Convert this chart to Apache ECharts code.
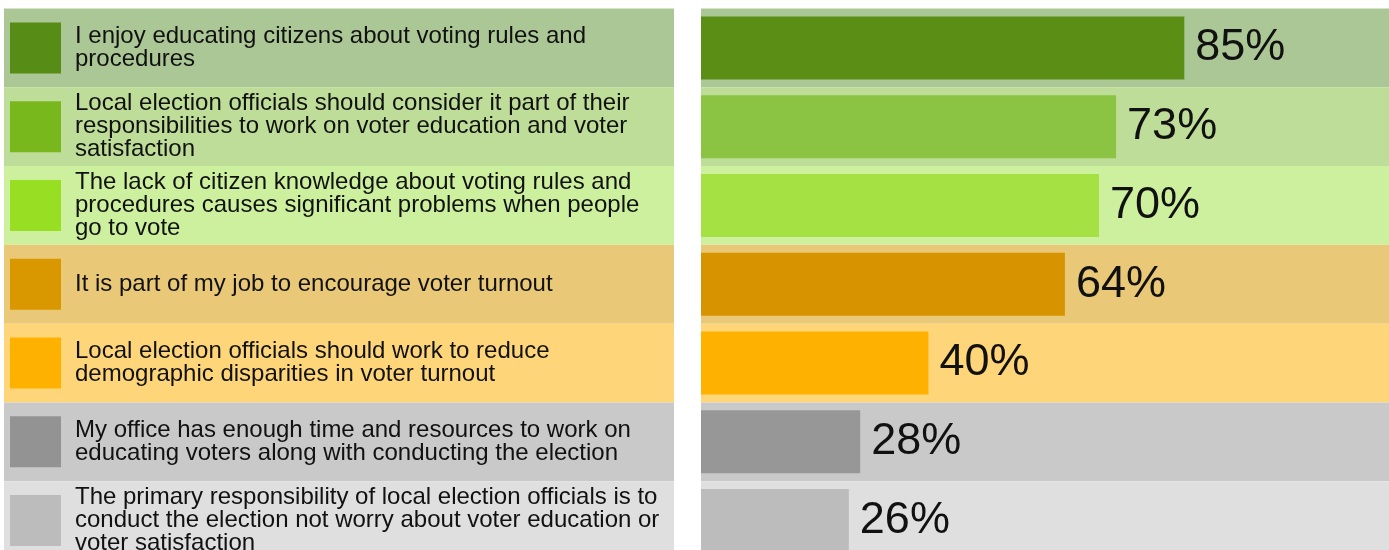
<!DOCTYPE html>
<html><head><meta charset="utf-8">
<script src="https://cdn.jsdelivr.net/npm/echarts@6/dist/echarts.min.js"></script>
<style>html,body{margin:0;padding:0;background:#fff;overflow:hidden}#c{width:1389px;height:560px}</style>
</head><body><div id="c"></div>
<script>
const statements = [
  "I enjoy educating citizens about voting rules and\nprocedures",
  "Local election officials should consider it part of their\nresponsibilities to work on voter education and voter\nsatisfaction",
  "The lack of citizen knowledge about voting rules and\nprocedures causes significant problems when people\ngo to vote",
  "It is part of my job to encourage voter turnout",
  "Local election officials should work to reduce\ndemographic disparities in voter turnout",
  "My office has enough time and resources to work on\neducating voters along with conducting the election",
  "The primary responsibility of local election officials is to\nconduct the election not worry about voter education or\nvoter satisfaction"
];
const values = [85, 73, 70, 64, 40, 28, 26];
const barColors = ["#5a8e14", "#8ac442", "#a6e143", "#d79400", "#ffb100", "#979797", "#bcbcbc"];
const swatchColors = ["#578c16", "#79b81d", "#98de22", "#d99700", "#ffb100", "#939393", "#bcbcbc"];
const bandColors = ["#abc795", "#bedd98", "#cdf09e", "#e9c877", "#fed679", "#c9c9c9", "#dfdfdf"];

const RIGHT_MAX = 121;
const LEFT_MAX = 670;
const cats = statements.map((s, i) => "r" + i);
const FONT = "'Liberation Sans', Arial, Helvetica, sans-serif";

const chart = echarts.init(document.getElementById('c'), null, {renderer: 'canvas'});
const hiddenCat = {type: 'category', data: cats, inverse: true, show: false, boundaryGap: true};
chart.setOption({
  animation: false,
  backgroundColor: '#ffffff',
  grid: [
    {left: 4, width: 670, top: 8.6, height: 551.3, containLabel: false},
    {left: 701, right: 0, top: 8.6, height: 551.3, containLabel: false}
  ],
  xAxis: [
    {type: 'value', gridIndex: 0, min: 0, max: LEFT_MAX, show: false},
    {type: 'value', gridIndex: 1, min: 0, max: RIGHT_MAX, show: false}
  ],
  yAxis: [
    Object.assign({gridIndex: 0}, hiddenCat),
    Object.assign({gridIndex: 1}, hiddenCat),
    Object.assign({gridIndex: 1}, hiddenCat)
  ],
  series: [
    {
      type: 'bar', xAxisIndex: 0, yAxisIndex: 0, barWidth: '100%', silent: true,
      data: bandColors.map(c => ({value: LEFT_MAX, itemStyle: {color: c}}))
    },
    {
      type: 'scatter', xAxisIndex: 0, yAxisIndex: 0, symbol: 'rect', symbolSize: 51, silent: true,
      data: swatchColors.map((c, i) => ({value: [31.5, i], itemStyle: {color: c, opacity: 1}})),
      label: {
        show: true, position: 'right', distance: 14,
        formatter: p => statements[p.dataIndex],
        fontFamily: FONT, fontSize: 24, lineHeight: 23, color: '#111111', align: 'left'
      }
    },
    {
      type: 'bar', xAxisIndex: 1, yAxisIndex: 1, barWidth: '100%', silent: true,
      data: bandColors.map(c => ({value: RIGHT_MAX, itemStyle: {color: c}}))
    },
    {
      type: 'bar', xAxisIndex: 1, yAxisIndex: 2, barWidth: '80%', silent: true,
      data: values.map((v, i) => ({value: v, itemStyle: {color: barColors[i]}})),
      label: {
        show: true, position: 'right', distance: 11,
        formatter: p => p.value + '%',
        fontFamily: FONT, fontSize: 45, color: '#111111'
      }
    }
  ]
});
</script>
</body></html>
